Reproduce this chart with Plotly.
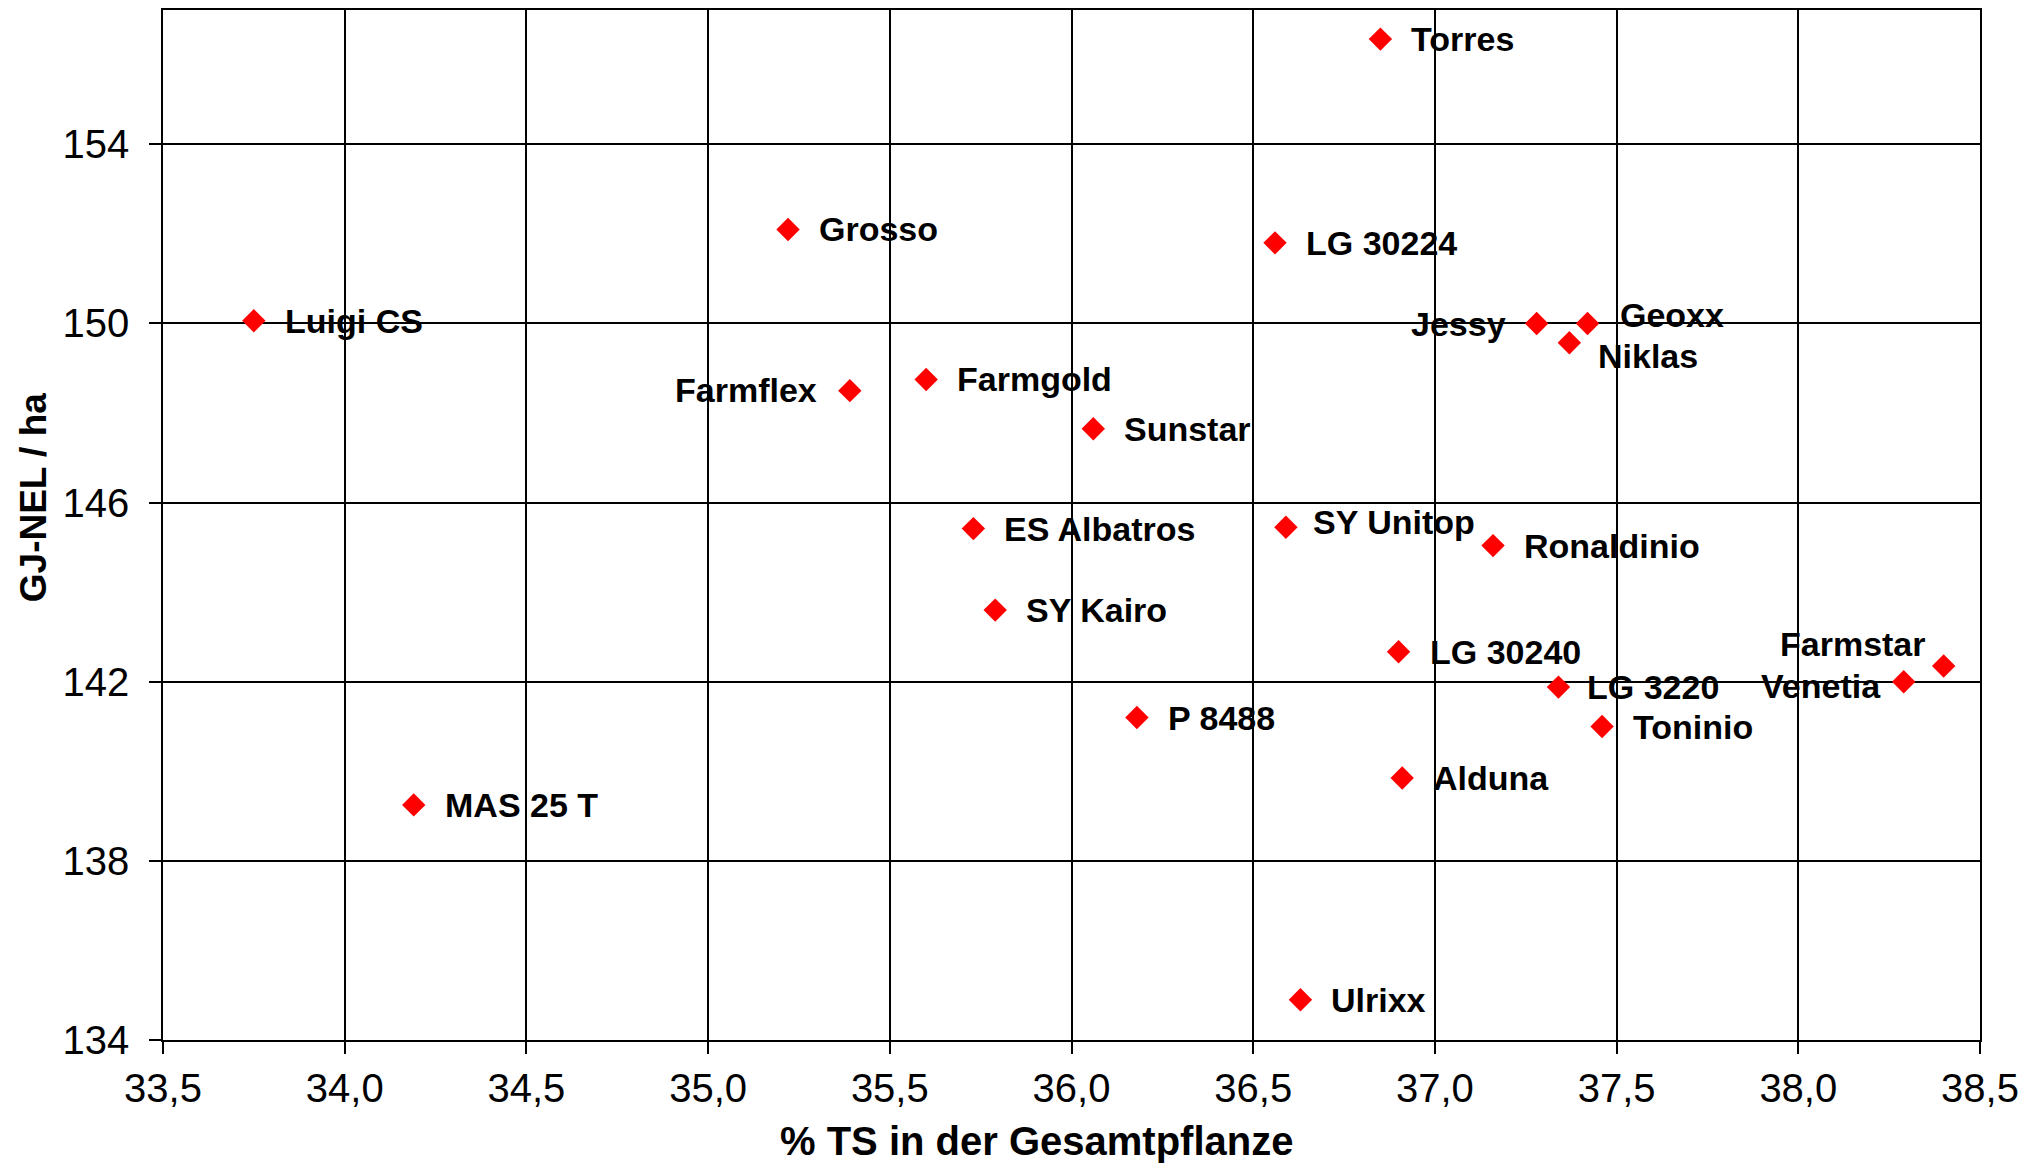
import plotly.graph_objects as go

# Sorten, TS-Gehalt (%) und Energieertrag (GJ NEL/ha)
sorten = ["Torres", "Grosso", "LG 30224", "Luigi CS", "Jessy", "Geoxx", "Niklas",
          "Farmflex", "Farmgold", "Sunstar", "ES Albatros", "SY Unitop", "Ronaldinio",
          "SY Kairo", "LG 30240", "Farmstar", "Venetia", "LG 3220", "Toninio",
          "P 8488", "Alduna", "MAS 25 T", "Ulrixx"]
ts = [36.85, 35.22, 36.56, 33.75, 37.28, 37.42, 37.37,
      35.39, 35.60, 36.06, 35.73, 36.59, 37.16,
      35.79, 36.90, 38.40, 38.29, 37.34, 37.46,
      36.18, 36.91, 34.19, 36.63]
nel = [156.35, 152.1, 151.8, 150.06, 150.0, 150.0, 149.57,
       148.5, 148.75, 147.65, 145.42, 145.45, 145.04,
       143.6, 142.67, 142.35, 142.0, 141.88, 141.0,
       141.2, 139.85, 139.25, 134.9]

x_ticks = [33.5, 34.0, 34.5, 35.0, 35.5, 36.0, 36.5, 37.0, 37.5, 38.0, 38.5]
y_ticks = [134, 138, 142, 146, 150, 154]

x_title = "% TS in der Gesamtpflanze"
y_title = "GJ-NEL / ha"

# label placement (pixel offsets from the marker), default: right of the point
links = {"Jessy": (-29, 1), "Farmflex": (-31, -1), "Venetia": (-21, 4), "Farmstar": (-16, -22)}
versatz = {"Geoxx": (30, -8), "Niklas": (27, 13), "SY Unitop": (25, -5), "LG 3220": (27, 0)}

font = "Liberation Sans, Arial, sans-serif"

fig = go.Figure()
fig.add_trace(go.Scatter(
    x=ts, y=nel, mode="markers",
    marker=dict(symbol="diamond", color="#ff0000", size=18, line_width=0),
    hovertext=sorten, showlegend=False))

for name, xv, yv in zip(sorten, ts, nel):
    if name in links:
        dx, dy = links[name]
        anchor = "right"
    else:
        dx, dy = versatz.get(name, (29, 0))
        anchor = "left"
    fig.add_annotation(x=xv, y=yv, text=name, showarrow=False,
                       xanchor=anchor, yanchor="middle", xshift=dx, yshift=-dy,
                       font=dict(family=font, size=34, color="black", weight="bold"))

# axis titles sit slightly off-centre in the original, so they are placed as annotations
fig.add_annotation(text=x_title, xref="paper", yref="paper", x=0.4806, y=0,
                   xanchor="center", yanchor="middle", yshift=-101, showarrow=False,
                   font=dict(family=font, size=40, color="black", weight="bold"))
fig.add_annotation(text=y_title, xref="paper", yref="paper", x=0, y=0.526,
                   xanchor="center", yanchor="middle", xshift=-130, textangle=-90,
                   showarrow=False,
                   font=dict(family=font, size=37, color="black", weight="bold"))

fig.update_xaxes(range=[33.5, 38.5], tickvals=x_ticks, tickformat=".1f",
                 showgrid=True, gridcolor="black", gridwidth=1.5,
                 showline=True, linecolor="black", linewidth=1.5, mirror=True,
                 ticks="outside", ticklen=12, tickcolor="black", tickwidth=1.5,
                 tickfont=dict(family=font, size=40, color="black"),
                 zeroline=False)
fig.update_yaxes(range=[134, 157.0], tickvals=y_ticks,
                 showgrid=True, gridcolor="black", gridwidth=1.5,
                 showline=True, linecolor="black", linewidth=1.5, mirror=True,
                 ticks="outside", ticklen=12, tickcolor="black", tickwidth=1.5,
                 tickfont=dict(family=font, size=40, color="black"),
                 ticklabelstandoff=12, zeroline=False)

# page body adds an 8px offset, so the figure is sized to fit inside the window
fig.update_layout(
    width=2036, height=1155,
    margin=dict(l=155, r=64, t=0, b=123),
    plot_bgcolor="white", paper_bgcolor="white",
    separators=",.",
)

fig.write_html("out.html")
